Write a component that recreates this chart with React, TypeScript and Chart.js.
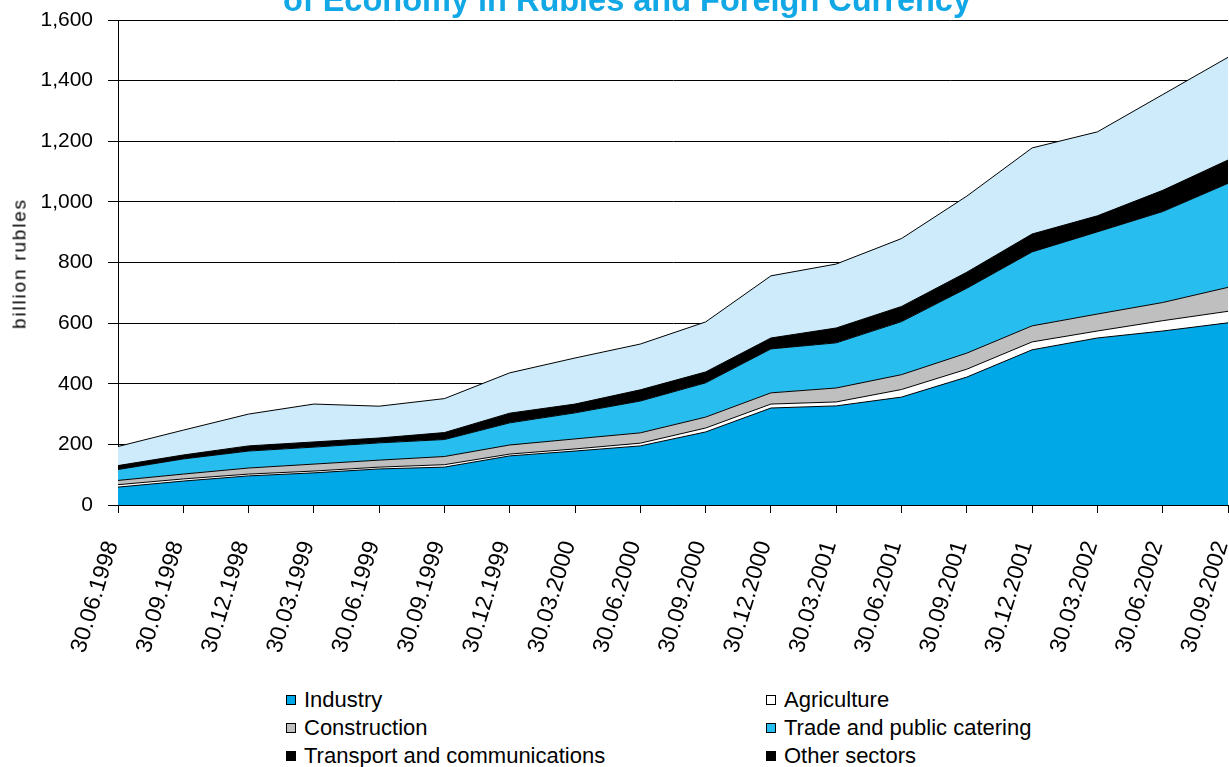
import React, { useEffect, useRef } from "react";
import { Chart, registerables } from "chart.js";

Chart.register(...registerables);

const categories = [
  "30.06.1998", "30.09.1998", "30.12.1998", "30.03.1999", "30.06.1999", "30.09.1999",
  "30.12.1999", "30.03.2000", "30.06.2000", "30.09.2000", "30.12.2000", "30.03.2001",
  "30.06.2001", "30.09.2001", "30.12.2001", "30.03.2002", "30.06.2002", "30.09.2002",
];

const seriesNames = [
  "Industry",
  "Agriculture",
  "Construction",
  "Trade and public catering",
  "Transport and communications",
  "Other sectors",
];

const industry = [59, 79, 96, 106, 119, 125, 162, 178, 195, 241, 320, 327, 356, 422, 512, 551, 574, 601];
const agriculture = [8, 7, 6, 6, 6, 8, 6, 7, 9, 13, 13, 13, 25, 26, 26, 23, 34, 38];
const construction = [14, 16, 20, 23, 23, 27, 30, 33, 34, 36, 37, 46, 49, 53, 53, 56, 60, 79];
const trade = [36, 50, 56, 56, 57, 56, 73, 86, 105, 113, 145, 149, 175, 214, 244, 271, 300, 343];
const transport = [13, 13, 17, 17, 16, 23, 32, 29, 37, 36, 36, 49, 50, 53, 59, 53, 70, 77];
const other = [63, 82, 105, 125, 105, 112, 133, 152, 151, 165, 205, 211, 224, 251, 284, 277, 316, 339];

const yTickValues = [0, 200, 400, 600, 800, 1000, 1200, 1400, 1600];

const titleText = "of Economy in Rubles and Foreign Currency";
const yAxisTitle = "billion rubles";

const seriesValues = [industry, agriculture, construction, trade, transport, other];
const areaColors = ["#00A8E8", "#FFFFFF", "#BFBFBF", "#27BEEF", "#000000", "#CDEBFB"];
const legendColors = ["#00A8E8", "#FFFFFF", "#BFBFBF", "#27BEEF", "#000000", "#000000"];

const FONT = "'Liberation Sans', Arial, Helvetica, sans-serif";

export default function App() {
  const canvasRef = useRef<HTMLCanvasElement | null>(null);

  useEffect(() => {
    const canvas = canvasRef.current;
    if (!canvas) return;
    const chart = new Chart(canvas, {
      type: "line",
      data: {
        labels: categories,
        datasets: seriesNames.map((name, i) => ({
          label: name,
          data: seriesValues[i],
          backgroundColor: areaColors[i],
          borderColor: "#000000",
          borderWidth: 1,
          fill: i === 0 ? "origin" : "-1",
          pointRadius: 0,
          pointHoverRadius: 0,
          tension: 0,
        })),
      },
      options: {
        responsive: false,
        animation: false,
        devicePixelRatio: 1,
        layout: { padding: { left: 0, right: 1, top: 20, bottom: 0 } },
        plugins: {
          legend: { display: false },
          tooltip: { enabled: false },
          title: { display: false },
        },
        scales: {
          x: {
            type: "category",
            offset: false,
            grid: {
              display: true,
              drawOnChartArea: false,
              drawTicks: true,
              tickLength: 8,
              color: "#000000",
              lineWidth: 1,
            },
            border: { display: true, color: "#000000", width: 1 },
            ticks: {
              autoSkip: false,
              minRotation: 73,
              maxRotation: 73,
              padding: 25,
              labelOffset: -6,
              color: "#000000",
              font: { family: FONT, size: 23 },
            },
            afterFit: (s: any) => {
              s.height = 175;
              s.paddingLeft = 0;
              s.paddingRight = 0;
            },
          },
          y: {
            stacked: true,
            min: 0,
            max: 1600,
            afterBuildTicks: (s: any) => {
              s.ticks = yTickValues.map((v) => ({ value: v }));
            },
            ticks: {
              padding: 15,
              color: "#000000",
              font: { family: FONT, size: 21 },
              callback: (v: any) => Number(v).toLocaleString("en-US"),
            },
            grid: { color: "#000000", lineWidth: 1, tickLength: 10 },
            border: { display: true, color: "#000000", width: 1 },
            afterFit: (s: any) => {
              s.width = 118;
              s.paddingTop = 0;
              s.paddingBottom = 0;
            },
          },
        },
      },
    });
    return () => chart.destroy();
  }, []);

  return (
    <div
      style={{
        position: "fixed",
        left: 0,
        top: 0,
        width: 1229,
        height: 767,
        overflow: "hidden",
        background: "#FFFFFF",
      }}
    >
      <canvas
        ref={canvasRef}
        width={1229}
        height={680}
        style={{ position: "absolute", left: 0, top: 0, width: 1229, height: 680 }}
      />
      <div
        style={{
          position: "absolute",
          left: 0,
          top: -16.5,
          width: 1254,
          textAlign: "center",
          fontFamily: FONT,
          fontWeight: "bold",
          fontSize: 32.5,
          lineHeight: "32.5px",
          color: "#12A7E5",
          whiteSpace: "nowrap",
        }}
      >
        {titleText}
      </div>
      <div
        style={{
          position: "absolute",
          left: 18.5 - 100,
          top: 263 - 9.5,
          width: 200,
          height: 19,
          textAlign: "center",
          fontFamily: FONT,
          fontSize: 19,
          lineHeight: "19px",
          letterSpacing: "1.8px",
          color: "#000000",
          transform: "rotate(-90deg)",
          transformOrigin: "50% 50%",
          whiteSpace: "nowrap",
        }}
      >
        {yAxisTitle}
      </div>
      {seriesNames.map((name, i) => {
        const col = i % 2;
        const row = Math.floor(i / 2);
        const markerLeft = col === 0 ? 286 : 766;
        const top = 689.4 + row * 27.8;
        return (
          <div
            key={name}
            style={{
              position: "absolute",
              left: markerLeft,
              top: top,
              height: 22,
              whiteSpace: "nowrap",
              fontFamily: FONT,
              fontSize: 22,
              lineHeight: "22px",
              color: "#000000",
            }}
          >
            <span
              style={{
                position: "absolute",
                left: 0,
                top: 6,
                width: 8,
                height: 8,
                border: "1px solid #000000",
                background: legendColors[i],
              }}
            />
            <span style={{ position: "absolute", left: 18, top: 0 }}>{name}</span>
          </div>
        );
      })}
    </div>
  );
}
